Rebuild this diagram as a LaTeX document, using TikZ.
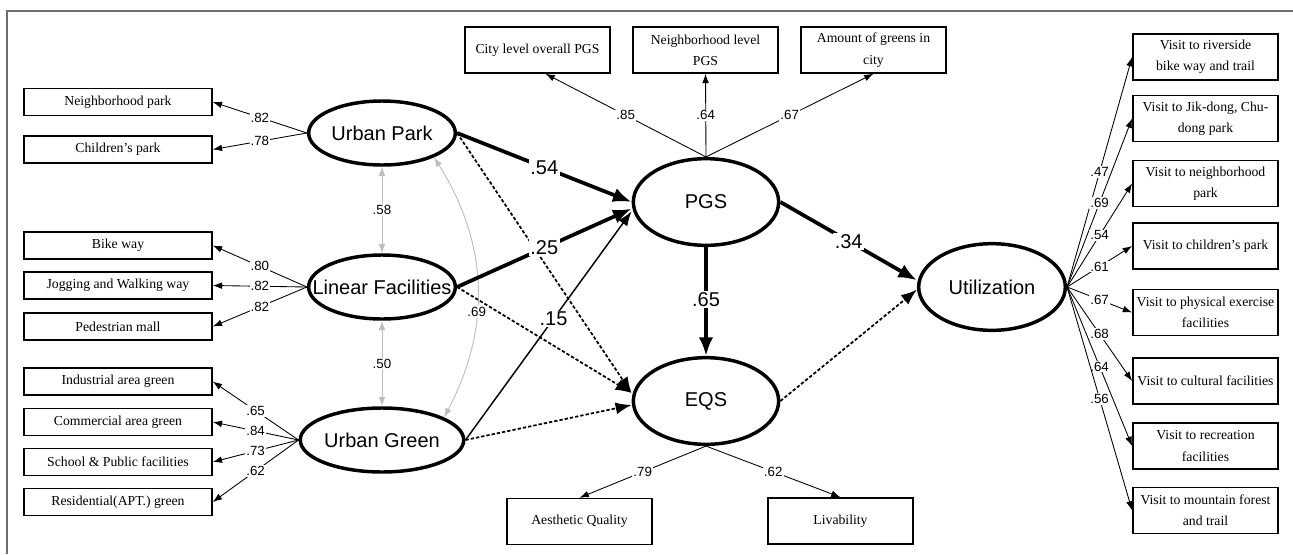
\documentclass[tikz,border=0pt]{standalone}
\usepackage{fontspec}
\setmainfont{Liberation Serif}
\setsansfont{Liberation Sans}
\usetikzlibrary{arrows.meta,shapes.geometric}
\definecolor{corrgray}{RGB}{190,190,190}
\definecolor{framegray}{RGB}{110,110,110}

\tikzset{
  obsbox/.style={draw=black,line width=1.1pt,fill=white,align=center,inner sep=1pt,
    font=\fontsize{10.3}{16}\selectfont},
  leftbox/.style={obsbox,minimum width=141pt,minimum height=20.5pt},
  sidebox/.style={obsbox,minimum width=109pt,minimum height=34.5pt},
  latent/.style={ellipse,draw=black,line width=2.6pt,inner sep=0pt,
    font=\sffamily\fontsize{15}{18}\selectfont},
  load/.style={->,>={Latex[length=7pt,width=5pt]},line width=0.65pt},
  coef/.style={fill=white,inner sep=0.8pt,font=\sffamily\fontsize{10}{12}\selectfont},
  bigcoef/.style={fill=white,inner sep=1pt,font=\sffamily\fontsize{15}{18}\selectfont},
  strong/.style={->,>={Latex[length=14pt,width=11pt]},line width=2.8pt},
  medium/.style={->,>={Latex[length=11pt,width=8pt]},line width=1.1pt},
  weak/.style={->,>={Latex[length=12pt,width=9pt]},line width=1.3pt,dash pattern=on 2.5pt off 1.5pt},
  corr/.style={<->,>={Latex[length=7pt,width=5pt]},corrgray,line width=0.7pt},
}

\begin{document}
\begin{tikzpicture}[x=0.75pt,y=-0.75pt]
  \useasboundingbox (0,0) rectangle (1293,554);
  \draw[framegray,line width=1.4pt] (7,554) -- (7,11) -- (1293,11);

  % latent variables:
  \node[latent,minimum width=110pt,minimum height=48pt] (UPark) at (382,133) {Urban Park};
  \node[latent,minimum width=110pt,minimum height=48pt] (LinFac) at (382,287) {\makebox[0pt]{Linear Facilities}};
  \node[latent,minimum width=110pt,minimum height=48pt] (UGreen) at (382,440) {Urban Green};
  \node[latent,minimum width=109pt,minimum height=65pt] (PGS) at (706,202) {PGS};
  \node[latent,minimum width=109pt,minimum height=65pt] (EQS) at (706,401) {EQS};
  \node[latent,minimum width=110pt,minimum height=65pt] (Util) at (992,287) {Utilization};

  % left indicators:
  \node[leftbox] (NP) at (118,102) {Neighborhood park};
  \node[leftbox] (CP) at (118,149.5) {Children’s park};
  \node[leftbox] (BW) at (118,245.5) {Bike way};
  \node[leftbox] (JW) at (118,285.5) {Jogging and Walking way};
  \node[leftbox] (PM) at (118,326.5) {Pedestrian mall};
  \node[leftbox] (IG) at (118,381.5) {Industrial area green};
  \node[leftbox] (CG) at (118,422) {Commercial area green};
  \node[leftbox] (SP) at (118,462) {School \& Public facilities};
  \node[leftbox] (RG) at (118,502) {Residential(APT.) green};

  % top and bottom indicators:
  \node[sidebox] (CL) at (537.5,50) {City level overall PGS};
  \node[sidebox] (NL) at (705.5,50) {Neighborhood level\\PGS};
  \node[sidebox] (AG) at (873.5,50) {Amount of greens in\\city};
  \node[sidebox] (AQ) at (579.5,521.5) {Aesthetic Quality};
  \node[sidebox] (LV) at (840.5,521) {Livability};

  % right indicators:
  \node[sidebox] (V1) at (1205.5,57) {Visit to riverside\\bike way and trail};
  \node[sidebox] (V2) at (1205.5,118.5) {Visit to Jik-dong, Chu-\\dong park};
  \node[sidebox] (V3) at (1205.5,183.5) {Visit to neighborhood\\park};
  \node[sidebox] (V4) at (1205.5,246) {Visit to children’s park};
  \node[sidebox] (V5) at (1205.5,312.5) {Visit to physical exercise\\facilities};
  \node[sidebox] (V6) at (1205.5,381) {Visit to cultural facilities};
  \node[sidebox] (V7) at (1205.5,446) {Visit to recreation\\facilities};
  \node[sidebox] (V8) at (1205.5,510.5) {Visit to mountain forest\\and trail};

  % loadings:
  \draw[load] (UPark.west) -- (NP.east) node[coef,pos=.5] {.82};
  \draw[load] (UPark.west) -- (CP.east) node[coef,pos=.5] {.78};
  \draw[load] (LinFac.west) -- (BW.east) node[coef,pos=.5] {.80};
  \draw[load] (LinFac.west) -- (JW.east) node[coef,pos=.5] {.82};
  \draw[load] (LinFac.west) -- (PM.east) node[coef,pos=.5] {.82};
  \draw[load] (UGreen.west) -- (IG.east) node[coef,pos=.5] {.65};
  \draw[load] (UGreen.west) -- (CG.east) node[coef,pos=.5] {.84};
  \draw[load] (UGreen.west) -- (SP.east) node[coef,pos=.5] {.73};
  \draw[load] (UGreen.west) -- (RG.east) node[coef,pos=.5] {.62};
  \draw[load] (PGS.north) -- ([xshift=6pt]CL.south) node[coef,pos=.5] {.85};
  \draw[load] (PGS.north) -- (NL.south) node[coef,pos=.5] {.64};
  \draw[load] (PGS.north) -- (AG.south) node[coef,pos=.5] {.67};
  \draw[load] (EQS.south) -- (AQ.north) node[coef,pos=.5] {.79};
  \draw[load] (EQS.south) -- (LV.north) node[coef,pos=.5] {.62};
  \draw[load] (Util.east) -- (V1.west) node[coef,pos=.5] {.47};
  \draw[load] (Util.east) -- (V2.west) node[coef,pos=.5] {.69};
  \draw[load] (Util.east) -- (V3.west) node[coef,pos=.5] {.54};
  \draw[load] (Util.east) -- (V4.west) node[coef,pos=.5] {.61};
  \draw[load] (Util.east) -- (V5.west) node[coef,pos=.5] {.67};
  \draw[load] (Util.east) -- (V6.west) node[coef,pos=.5] {.68};
  \draw[load] (Util.east) -- (V7.west) node[coef,pos=.5] {.64};
  \draw[load] (Util.east) -- (V8.west) node[coef,pos=.5] {.56};

  % correlations:
  \draw[corr] (UPark.south) -- (LinFac.north) node[coef,text=black,pos=.5] {.58};
  \draw[corr] (LinFac.south) -- (UGreen.north) node[coef,text=black,pos=.5] {.50};
  \draw[corr] (UPark.-25) to[bend left=30] node[coef,text=black,pos=.6] {.69} (UGreen.20);

  % structural paths:
  \draw[weak] (UPark.east) -- ([yshift=6pt]EQS.west);
  \draw[weak] (LinFac.east) -- ([yshift=6pt]EQS.west);
  \draw[weak] (UGreen.east) -- ([yshift=-3pt]EQS.west);
  \draw[weak] (EQS.east) -- ([yshift=-2pt]Util.west);
  \draw[strong] (UPark.east) -- (PGS.west) node[bigcoef,pos=.5] {.54};
  \draw[strong] (LinFac.east) -- ([yshift=-5pt]PGS.west) node[bigcoef,pos=.5] {.25};
  \draw[medium] (UGreen.east) -- ([yshift=-7pt]PGS.west) node[bigcoef,pos=.53] {.15};
  \draw[strong] (PGS.south) -- (EQS.north) node[bigcoef,pos=.48] {.65};
  \draw[strong] (PGS.east) -- ([yshift=5pt]Util.west) node[bigcoef,pos=.5] {.34};
\end{tikzpicture}
\end{document}
